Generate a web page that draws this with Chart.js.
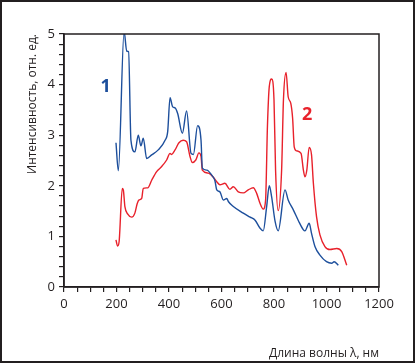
<!DOCTYPE html>
<html>
<head>
<meta charset="utf-8">
<script src="https://cdn.jsdelivr.net/npm/chart.js@4"></script>
<style>
  html, body { margin: 0; padding: 0; background: #fff; }
  .frame { width: 415px; height: 363px; box-sizing: border-box; border: 2px solid #231f20; position: relative; }
  .frame canvas { display: block; }
</style>
</head>
<body>
<div class="frame"><canvas id="spectrum" width="411" height="359"></canvas></div>
<script>
// кривая 1 (синяя)
const wl1 = [198, 207, 229, 239, 246, 255, 270, 283, 293, 302, 315, 334, 359, 385, 395, 404, 414, 423, 433, 451, 467, 484, 493, 509, 522, 527, 544, 563, 575, 582, 594, 607, 620, 626, 645, 683, 709, 728, 747, 759, 772, 782, 791, 804, 816, 842, 854, 874, 893, 912, 918, 934, 943, 956, 975, 1000, 1020, 1029, 1045];
const int1 = [2.85, 2.30, 5.05, 4.66, 4.65, 2.90, 2.67, 3.00, 2.79, 2.94, 2.54, 2.61, 2.71, 2.90, 3.07, 3.74, 3.56, 3.54, 3.43, 3.04, 3.48, 2.64, 2.62, 3.19, 2.90, 2.35, 2.31, 2.21, 2.10, 1.92, 1.88, 1.72, 1.75, 1.69, 1.59, 1.46, 1.38, 1.32, 1.16, 1.11, 1.59, 2.00, 1.78, 1.30, 1.11, 1.92, 1.72, 1.52, 1.31, 1.13, 1.11, 1.26, 1.06, 0.80, 0.63, 0.50, 0.47, 0.50, 0.43];

// кривая 2 (красная)
const wl2 = [198, 204, 210, 222, 226, 232, 243, 258, 270, 279, 286, 296, 302, 319, 334, 353, 372, 391, 404, 410, 423, 438, 454, 467, 480, 489, 502, 514, 522, 527, 550, 569, 582, 594, 613, 632, 645, 664, 683, 702, 721, 734, 747, 759, 768, 775, 782, 791, 800, 806, 816, 829, 836, 846, 854, 864, 871, 877, 886, 903, 912, 918, 925, 934, 943, 950, 962, 975, 994, 1013, 1039, 1058, 1077];
const int2 = [0.93, 0.81, 0.90, 1.95, 1.92, 1.59, 1.44, 1.38, 1.46, 1.65, 1.72, 1.75, 1.95, 1.96, 2.11, 2.28, 2.38, 2.51, 2.64, 2.62, 2.71, 2.85, 2.90, 2.87, 2.58, 2.46, 2.51, 2.65, 2.58, 2.31, 2.25, 2.17, 2.08, 2.02, 2.05, 1.93, 1.98, 1.88, 1.86, 1.92, 1.96, 1.85, 1.65, 1.54, 1.72, 3.17, 3.96, 4.11, 3.70, 2.31, 1.51, 2.31, 3.70, 4.24, 3.76, 3.63, 3.33, 2.77, 2.69, 2.64, 2.31, 2.18, 2.31, 2.76, 2.61, 2.05, 1.39, 1.03, 0.80, 0.74, 0.76, 0.70, 0.43];

// подписи кривых
const curveLabels = [
  { text: '1', x: 159, y: 3.95, color: '#1d4f9c' },
  { text: '2', x: 926, y: 3.40, color: '#e8212b' }
];

const FONT = "'Open Sans', 'DejaVu Sans', sans-serif";
const INK = '#231f20';

const toPoints = (xs, ys) => xs.map((x, i) => ({ x: x, y: ys[i] }));
const isMultiple = (v, step) => Math.abs(v / step - Math.round(v / step)) < 1e-6;

// рамка области построения + номера кривых
const framePlugin = {
  id: 'framePlugin',
  afterDatasetsDraw(chart) {
    const { ctx, chartArea, scales } = chart;
    ctx.save();
    ctx.strokeStyle = INK;
    ctx.lineWidth = 1.5;
    ctx.strokeRect(chartArea.left, chartArea.top, chartArea.right - chartArea.left, chartArea.bottom - chartArea.top);
    ctx.font = 'bold 18px ' + FONT;
    ctx.textAlign = 'center';
    ctx.textBaseline = 'middle';
    curveLabels.forEach(l => {
      ctx.fillStyle = l.color;
      ctx.fillText(l.text, scales.x.getPixelForValue(l.x), scales.y.getPixelForValue(l.y));
    });
    ctx.restore();
  }
};

new Chart(document.getElementById('spectrum').getContext('2d'), {
  type: 'line',
  data: {
    datasets: [
      {
        label: '1',
        data: toPoints(wl1, int1),
        borderColor: '#1d4f9c',
        borderWidth: 1.4,
        pointRadius: 0,
        fill: false,
        cubicInterpolationMode: 'monotone'
      },
      {
        label: '2',
        data: toPoints(wl2, int2),
        borderColor: '#e8212b',
        borderWidth: 1.4,
        pointRadius: 0,
        fill: false,
        cubicInterpolationMode: 'monotone'
      }
    ]
  },
  options: {
    responsive: false,
    animation: false,
    events: [],
    layout: { padding: { top: 32, right: 34, left: 0, bottom: 0 } },
    plugins: { legend: { display: false }, tooltip: { enabled: false } },
    scales: {
      x: {
        type: 'linear',
        min: 0,
        max: 1200,
        afterFit: (s) => { s.height = 74; },
        afterBuildTicks: (s) => {
          const t = [];
          for (let v = 0; v <= 1200; v += 50) t.push({ value: v });
          s.ticks = t;
        },
        ticks: {
          autoSkip: false,
          maxRotation: 0,
          padding: 4,
          color: INK,
          font: { family: FONT, size: 13 },
          callback: (v) => isMultiple(v, 200) ? String(v) : ''
        },
        grid: { drawOnChartArea: false, drawTicks: true, tickLength: 5, color: INK, lineWidth: 1.2 },
        border: { color: INK, width: 1.5 },
        title: {
          display: true,
          text: 'Длина волны λ, нм',
          align: 'end',
          color: INK,
          font: { family: FONT, size: 12 },
          padding: { top: 24, bottom: 0 }
        }
      },
      y: {
        min: 0,
        max: 5,
        afterFit: (s) => { s.width = 62; },
        afterBuildTicks: (s) => {
          const t = [];
          for (let i = 0; i <= 25; i++) t.push({ value: i / 5 });
          s.ticks = t;
        },
        ticks: {
          autoSkip: false,
          padding: 4,
          color: INK,
          font: { family: FONT, size: 13 },
          callback: (v) => isMultiple(v, 1) ? String(Math.round(v)) : ''
        },
        grid: { drawOnChartArea: false, drawTicks: true, tickLength: 5, color: INK, lineWidth: 1.2 },
        border: { color: INK, width: 1.5 },
        title: {
          display: true,
          text: 'Интенсивность, отн. ед.',
          align: 'end',
          color: INK,
          font: { family: FONT, size: 12 },
          padding: { top: 23, bottom: 0 }
        }
      }
    }
  },
  plugins: [framePlugin]
});
</script>
</body>
</html>
